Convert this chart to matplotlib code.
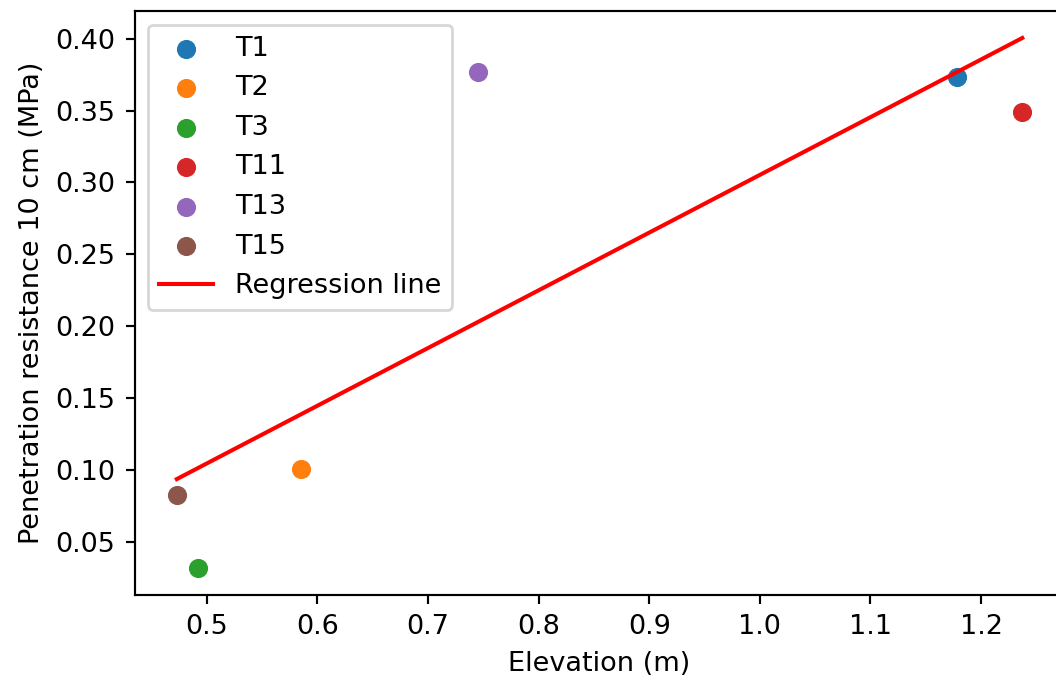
import numpy as np
from matplotlib import pyplot as plt

# transects: elevation (m) vs penetration resistance at 10 cm (MPa)
labels = ["T1", "T2", "T3", "T11", "T13", "T15"]
elevation = [1.1786, 0.585, 0.4924, 1.2373, 0.745, 0.4729]
resistance = [0.3736, 0.1004, 0.0315, 0.349, 0.3771, 0.0826]

dpi = 195
fig = plt.figure(figsize=(1056 / dpi, 682 / dpi), dpi=dpi)
ax = fig.add_axes([0.1274, 0.1276, 0.8807, 0.8556])

for lab, x, y in zip(labels, elevation, resistance):
    ax.scatter(x, y, s=50, linewidths=0, label=lab)

x = np.array(elevation)
slope, intercept = np.polyfit(x, np.array(resistance), 1)
xs = np.sort(x)
ax.plot(xs, slope * xs + intercept, color="red", label="Regression line")

ax.set_xlabel("Elevation (m)")
ax.set_ylabel("Penetration resistance 10 cm (MPa)")
ax.legend(loc="upper left")

fig.savefig("out.png", dpi=dpi)
